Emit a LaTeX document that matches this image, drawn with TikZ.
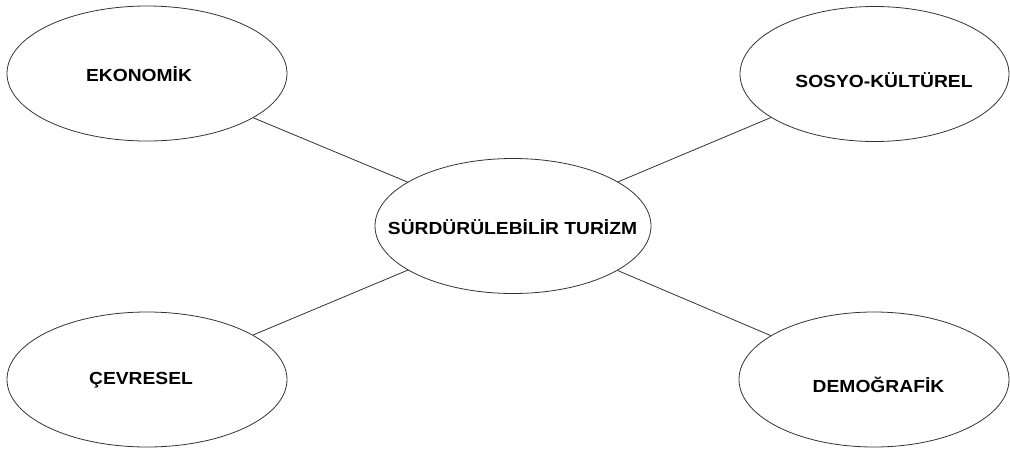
\documentclass[tikz,border=0pt]{standalone}
\usepackage{fontspec}
\setmainfont[FakeStretch=1.1]{Liberation Sans}
\usetikzlibrary{shapes.geometric}

\begin{document}
\begin{tikzpicture}[x=1pt,y=-1pt,
    blob/.style={draw=black!80, line width=0.8pt, ellipse, inner sep=0pt, minimum height=135pt},
    lbl/.style={anchor=base, inner sep=0pt, font=\bfseries\fontsize{17.5}{20}\selectfont}]

    \useasboundingbox (0,0) rectangle (1010,448);

    % Centre ellipse
    \node [blob, minimum width=276pt] (turizm) at (513, 226) {};
    \node [lbl] (turizm-txt) at (512.5, 234) {SÜRDÜRÜLEBİLİR TURİZM};

    % For each dimension ...
    \foreach \name/\x/\y/\w/\tx/\ty/\txt in {
        eko/147/73.5/280/139/81/EKONOMİK,
        sosyo/874.5/74/269/884/87/SOSYO-KÜLTÜREL,
        cevre/147/379.5/280/141/384/ÇEVRESEL,
        demo/874/379.5/270/878.5/392/DEMOĞRAFİK} {
      \node [blob, minimum width=\w pt] (\name) at (\x, \y) {};
      \node [lbl] (\name-txt) at (\tx, \ty) {\txt};

      % Link to the centre
      \draw [black!80, line width=0.8pt] (\name) -- (turizm);
    }

  \end{tikzpicture}
\end{document}
